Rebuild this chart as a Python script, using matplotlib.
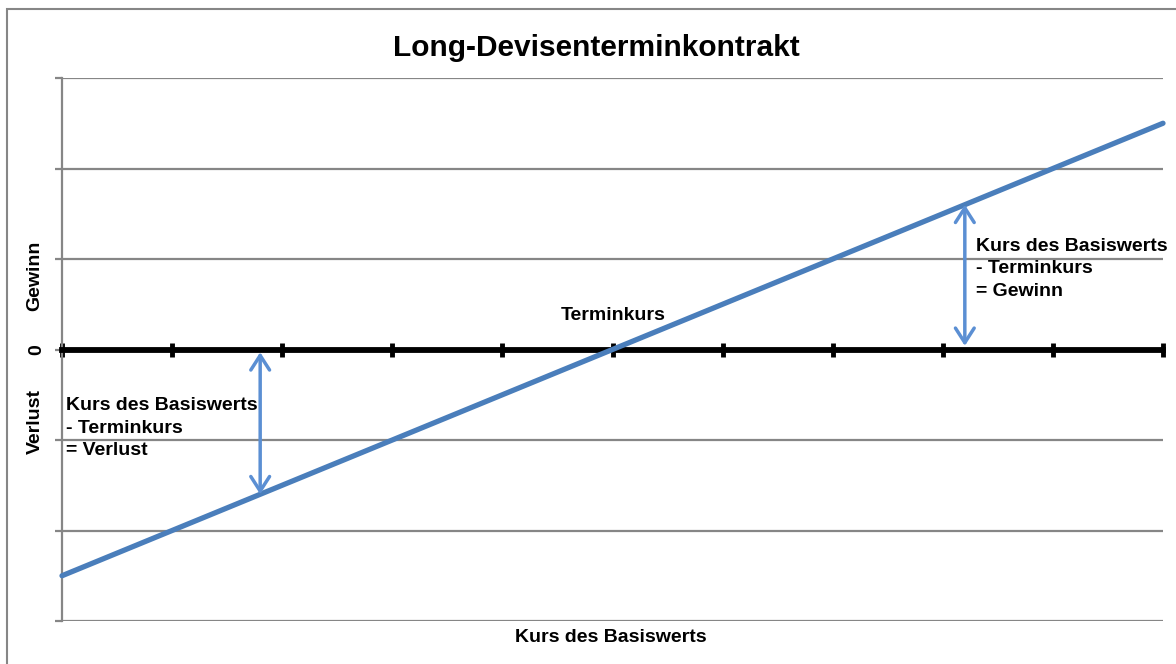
import matplotlib
matplotlib.use('Agg')
import matplotlib.pyplot as plt
from matplotlib.patches import Rectangle

plt.rcParams['font.family'] = ['Liberation Sans', 'DejaVu Sans']
plt.rcParams['font.weight'] = 'bold'

# data
kurs = [0, 1, 2, 3, 4, 5, 6, 7, 8, 9, 10]
ergebnis = [-2.5, -2.0, -1.5, -1.0, -0.5, 0.0, 0.5, 1.0, 1.5, 2.0, 2.5]
y_ticks = [-3, -2, -1, 0, 1, 2, 3]
y_labels = ['', '', '', '0', '', '', '']
verlust_x, verlust_y = 1.8, -1.6
gewinn_x, gewinn_y = 8.2, 1.6

W, H = 1176, 664
fig = plt.figure(figsize=(W / 100, H / 100), dpi=100)
ax = fig.add_axes([62 / W, (H - 621) / H, (1163 - 62) / W, (621 - 78) / H])

grey = '#868686'
blue = '#4a7ebb'
arrow_blue = '#5b8fd3'

ax.set_xlim(0, 10)
ax.set_ylim(-3, 3)
ax.set_yticks(y_ticks)
ax.set_yticklabels(y_labels, rotation=90, va='center', fontsize=14, fontweight='bold')
ax.yaxis.grid(True, color=grey, lw=1.6)
ax.set_axisbelow(True)
ax.tick_params(axis='y', length=5, width=1.6, color=grey, pad=7)

ax.set_xticks(kurs)
ax.set_xticklabels([])
ax.tick_params(axis='x', direction='inout', length=10, width=3.5, color='black')

for s in ['top', 'right']:
    ax.spines[s].set_visible(False)
ax.spines['left'].set_color(grey)
ax.spines['left'].set_linewidth(1.6)
ax.spines['bottom'].set_position(('data', 0))
ax.spines['bottom'].set_color('black')
ax.spines['bottom'].set_linewidth(4.2)
ax.spines['bottom'].set_zorder(3)

ax.plot(kurs, ergebnis, color=blue, lw=3.8, solid_capstyle='round', zorder=4, clip_on=False)

aprops = dict(arrowstyle='<->,head_length=0.7,head_width=0.45', color=arrow_blue, lw=2.5,
              shrinkA=0, shrinkB=0, mutation_scale=15)
ax.annotate('', xy=(verlust_x, -0.03), xytext=(verlust_x, verlust_y), arrowprops=aprops, zorder=5)
ax.annotate('', xy=(gewinn_x, 0.04), xytext=(gewinn_x, gewinn_y), arrowprops=aprops, zorder=5)

ax.text(0.04, -0.53, 'Kurs des Basiswerts\n- Terminkurs\n= Verlust', fontsize=14,
        fontweight='bold', va='top', ha='left', linespacing=1.4, zorder=6)
ax.text(8.3, 1.23, 'Kurs des Basiswerts\n- Terminkurs\n= Gewinn', fontsize=14,
        fontweight='bold', va='top', ha='left', linespacing=1.4, zorder=6)
ax.text(5.01, 0.38, 'Terminkurs', fontsize=14, fontweight='bold', ha='center', va='center', zorder=6)

fig.text(596 / W, (H - 48) / H, 'Long-Devisenterminkontrakt', fontsize=21.5,
         fontweight='bold', ha='center', va='center')
fig.text(611 / W, (H - 638) / H, 'Kurs des Basiswerts', fontsize=14,
         fontweight='bold', ha='center', va='center')
fig.text(35 / W, (H - 276) / H, 'Gewinn', fontsize=14, fontweight='bold',
         rotation=90, ha='center', va='center')
fig.text(35 / W, (H - 421) / H, 'Verlust', fontsize=14, fontweight='bold',
         rotation=90, ha='center', va='center')

fig.patches.append(Rectangle((7 / W, -0.05), 1.0, (H - 9) / H + 0.05, transform=fig.transFigure,
                             fill=False, edgecolor=grey, lw=1.5))

fig.savefig('out.png', dpi=100)
